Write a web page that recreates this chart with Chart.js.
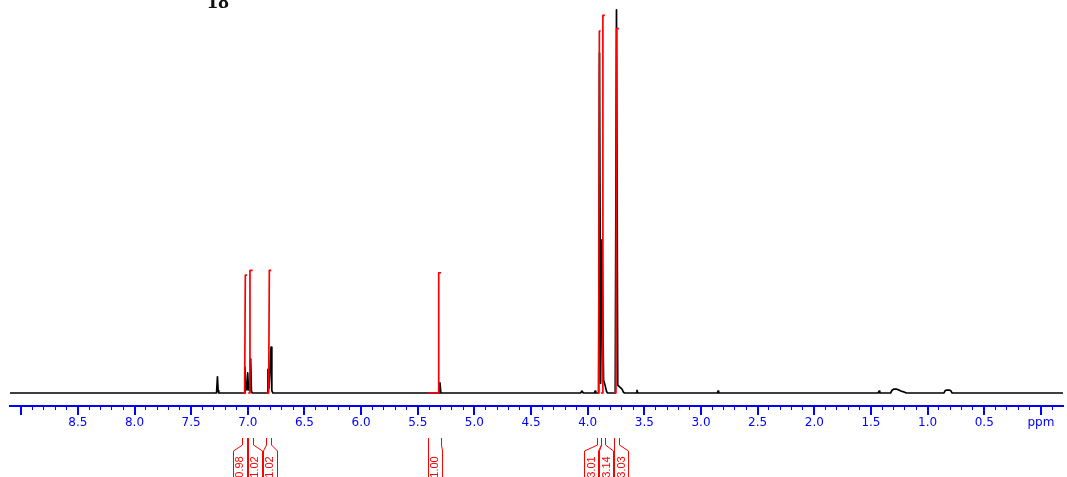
<!DOCTYPE html>
<html>
<head>
<meta charset="utf-8">
<script src="https://cdn.jsdelivr.net/npm/chart.js"></script>
<style>
  html, body { margin: 0; padding: 0; background: #fff; }
  #wrap { width: 1067px; height: 477px; }
</style>
</head>
<body>
<div id="wrap"><canvas id="nmr" width="1067" height="477"></canvas></div>
<script>
// 1H trace, vertices along the spectrum (ppm, intensity)
const specPpm = [
  9.10,
  7.276, 7.268, 7.262, 7.256,
  7.032, 7.025, 7.018, 7.008, 7.001, 6.994, 6.982, 6.975, 6.968, 6.960,
  6.829, 6.822, 6.813, 6.795, 6.788, 6.779,
  5.312, 5.304, 5.296,
  4.063, 4.051, 4.039,
  3.941, 3.935, 3.929,
  3.904, 3.896, 3.886, 3.874, 3.860, 3.847, 3.834, 3.824,
  3.757, 3.746, 3.735, 3.697, 3.685, 3.675,
  3.572, 3.565, 3.558,
  2.856, 2.850, 2.844,
  1.436, 1.429, 1.422,
  1.327, 1.314, 1.297, 1.277, 1.257, 1.237, 1.212, 1.188,
  0.855, 0.845, 0.830, 0.811, 0.796, 0.784,
  -0.20
];
const specInt = [
  0,
  0, 4.1, 0.6, 0,
  0, 6.5, 1.0, 0.8, 5.1, 0.8, 0.6, 8.7, 0.4, 0,
  0, 6.0, 1.2, 11.7, 0.6, 0,
  0, 2.6, 0,
  0, 0.5, 0,
  0, 0.5, 0,
  0, 86.5, 2.5, 39, 3.3, 2.0, 0.4, 0,
  0, 97.5, 2.0, 1.0, 0.2, 0,
  0, 0.7, 0,
  0, 0.5, 0,
  0, 0.5, 0,
  0, 0.7, 1.0, 1.0, 0.8, 0.5, 0.3, 0,
  0, 0.6, 0.75, 0.75, 0.6, 0,
  0
];

// integrals: value, region bounds and where the curve steps up (ppm)
const intLabels = ["0.98", "1.02", "1.02", "1.00", "3.01", "3.14", "3.03"];
const intValues = [0.98, 1.02, 1.02, 1.00, 3.01, 3.14, 3.03];
const intFrom   = [7.047, 6.997, 6.838, 5.408, 3.919, 3.884, 3.770];
const intTo     = [7.007, 6.957, 6.793, 5.294, 3.886, 3.849, 3.725];
const intRise   = [7.025, 6.984, 6.813, 5.318, 3.900, 3.869, 3.748];

const INT_SCALE = 30.6; // trace units per proton
const RED = "#ff0000";
const BLUE = "#0000ff";

const spectrum = specPpm.map((p, i) => ({ x: p, y: specInt[i] }));

const integralSets = intValues.map((v, i) => ({
  data: [
    { x: intFrom[i], y: 0 },
    { x: intRise[i] + 0.003, y: 0 },
    { x: intRise[i] - 0.003, y: v * INT_SCALE },
    { x: intTo[i], y: v * INT_SCALE }
  ],
  borderColor: RED,
  borderWidth: 1.7,
  borderJoinStyle: "round",
  pointRadius: 0,
  tension: 0
}));

// half-ppm ticks, integral brackets and the compound number
const annotate = {
  id: "annotate",
  afterDraw(chart) {
    const ctx = chart.ctx;
    const xs = chart.scales.x;
    const bottom = chart.chartArea.bottom;
    ctx.save();

    ctx.strokeStyle = BLUE;
    ctx.lineWidth = 2;
    xs.ticks.forEach(t => {
      if (Math.abs(t.value * 2 - Math.round(t.value * 2)) < 1e-6) {
        const px = Math.round(xs.getPixelForValue(t.value));
        ctx.beginPath();
        ctx.moveTo(px, bottom);
        ctx.lineTo(px, bottom + 9);
        ctx.stroke();
      }
    });

    // spread the label boxes so neighbours don't overlap
    const W = 14;
    const cx = intFrom.map((f, i) => (xs.getPixelForValue(f) + xs.getPixelForValue(intTo[i])) / 2);
    for (let k = 0; k < 60; k++) {
      for (let i = 1; i < cx.length; i++) {
        const ov = cx[i - 1] + W + 1 - cx[i];
        if (ov > 0) { cx[i - 1] -= ov / 2; cx[i] += ov / 2; }
      }
    }

    ctx.strokeStyle = RED;
    ctx.fillStyle = RED;
    ctx.lineWidth = 1;
    ctx.font = "11px 'Liberation Sans'";
    ctx.textAlign = "center";
    ctx.textBaseline = "middle";
    intLabels.forEach((lab, i) => {
      const nl = Math.round(xs.getPixelForValue(intFrom[i])) + 0.5;
      const nr = Math.round(xs.getPixelForValue(intTo[i])) + 0.5;
      const bl = Math.round(cx[i] - W / 2) + 0.5;
      const br = Math.round(cx[i] + W / 2) + 0.5;
      ctx.beginPath();
      ctx.moveTo(nl, 438); ctx.lineTo(nl, 445); ctx.lineTo(bl, 451); ctx.lineTo(bl, 480);
      ctx.moveTo(nr, 438); ctx.lineTo(nr, 445); ctx.lineTo(br, 451); ctx.lineTo(br, 480);
      ctx.stroke();
      ctx.save();
      ctx.translate(cx[i] + 0.5, 467);
      ctx.rotate(-Math.PI / 2);
      ctx.fillText(lab, 0, 0);
      ctx.restore();
    });

    ctx.fillStyle = "#111";
    ctx.font = "bold 22px 'Liberation Serif'";
    ctx.textAlign = "left";
    ctx.textBaseline = "alphabetic";
    ctx.fillText("18", 207, 8);

    ctx.restore();
  }
};

new Chart(document.getElementById("nmr"), {
  type: "line",
  data: {
    datasets: [
      ...integralSets,
      {
        data: spectrum,
        borderColor: "#000",
        borderWidth: 1.7,
        borderJoinStyle: "round",
        pointRadius: 0,
        tension: 0
      }
    ]
  },
  options: {
    responsive: false,
    animation: false,
    devicePixelRatio: 1,
    layout: { padding: { left: 10, right: 4, top: 0, bottom: 0 } },
    plugins: { legend: { display: false }, tooltip: { enabled: false } },
    scales: {
      x: {
        type: "linear",
        reverse: true,
        min: -0.195,
        max: 9.099,
        afterFit(s) { s.height = 71; },
        border: { display: true, color: BLUE, width: 2 },
        grid: { drawOnChartArea: false, drawTicks: true, tickLength: 4, color: BLUE, tickWidth: 1 },
        ticks: {
          stepSize: 0.1,
          includeBounds: false,
          autoSkip: false,
          maxRotation: 0,
          minRotation: 0,
          padding: 6,
          color: BLUE,
          font: { family: "DejaVu Sans", size: 12 },
          callback(v) {
            if (Math.abs(v * 2 - Math.round(v * 2)) > 1e-6) return "";
            if (Math.abs(v) < 1e-6) return "ppm";
            if (v > 8.6) return "";
            return v.toFixed(1);
          }
        }
      },
      y: {
        display: false,
        min: -3.31,
        max: 100
      }
    }
  },
  plugins: [annotate]
});
</script>
</body>
</html>
